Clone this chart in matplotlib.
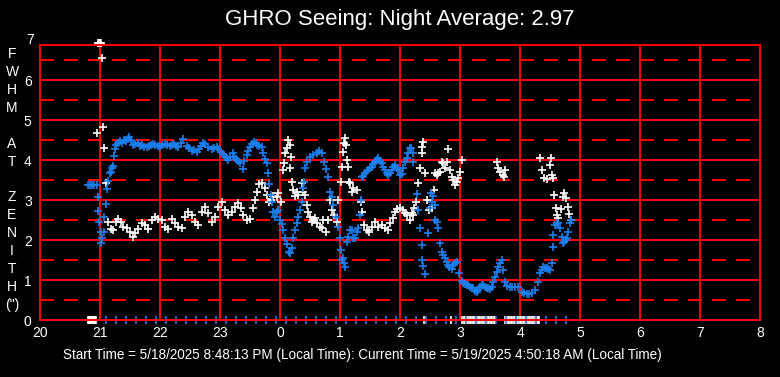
import matplotlib
matplotlib.use("Agg")
import matplotlib.pyplot as plt

plt.rcParams['font.family'] = ['Liberation Sans', 'DejaVu Sans']

# --- data (clock time, FWHM in arcsec) ---
blue_times = [
    "20:48", "20:50", "20:52", "20:54", "20:57", "20:58", "20:58", "20:59", "21:01", "21:01",
    "21:02", "21:04", "21:04", "21:06", "21:07", "21:08", "21:10", "21:11", "21:12", "21:13",
    "21:14", "21:15", "21:16", "21:18", "21:20", "21:22", "21:24", "21:26", "21:28", "21:29",
    "21:31", "21:33", "21:35", "21:38", "21:40", "21:42", "21:44", "21:47", "21:49", "21:51",
    "21:53", "21:55", "21:58", "22:00", "22:02", "22:05", "22:07", "22:10", "22:12", "22:14",
    "22:16", "22:18", "22:21", "22:23", "22:27", "22:29", "22:32", "22:34", "22:37", "22:39",
    "22:41", "22:43", "22:45", "22:48", "22:52", "22:54", "22:57", "22:58", "23:01", "23:03",
    "23:05", "23:07", "23:08", "23:10", "23:13", "23:14", "23:16", "23:18", "23:20", "23:23",
    "23:24", "23:27", "23:28", "23:30", "23:32", "23:34", "23:36", "23:37", "23:39", "23:42",
    "23:43", "23:45", "23:47", "23:48", "23:49", "23:51", "23:52", "23:53", "23:55", "23:57",
    "23:58", "00:00", "00:02", "00:03", "00:05", "00:07", "00:09", "00:10", "00:12", "00:13",
    "00:15", "00:17", "00:18", "00:20", "00:22", "00:23", "00:24", "00:25", "00:27", "00:30",
    "00:33", "00:37", "00:39", "00:42", "00:44", "00:46", "00:48", "00:50", "00:52", "00:53",
    "00:56", "00:58", "01:00", "01:01", "01:02", "01:03", "01:04", "01:05", "01:07", "01:08",
    "01:10", "01:12", "01:13", "01:15", "01:17", "01:18", "01:20", "01:21", "01:22", "01:23",
    "01:25", "01:27", "01:28", "01:30", "01:32", "01:33", "01:35", "01:37", "01:38", "01:40",
    "01:42", "01:43", "01:45", "01:47", "01:48", "01:50", "01:52", "01:53", "01:55", "01:57",
    "01:58", "02:00", "02:02", "02:03", "02:05", "02:07", "02:08", "02:10", "02:11", "02:13",
    "02:13", "02:17", "02:18", "02:20", "02:22", "02:22", "02:23", "02:25", "02:28", "02:30",
    "02:31", "02:32", "02:33", "02:35", "02:35", "02:37", "02:38", "02:40", "02:42", "02:43",
    "02:45", "02:47", "02:48", "02:49", "02:52", "02:53", "02:55", "02:57", "02:59", "03:02",
    "03:03", "03:05", "03:07", "03:08", "03:10", "03:12", "03:13", "03:15", "03:17", "03:18",
    "03:20", "03:22", "03:23", "03:25", "03:27", "03:28", "03:30", "03:32", "03:33", "03:35",
    "03:37", "03:38", "03:40", "03:42", "03:43", "03:45", "03:47", "03:50", "03:52", "03:55",
    "03:58", "04:02", "04:04", "04:07", "04:09", "04:12", "04:15", "04:18", "04:20", "04:22",
    "04:23", "04:25", "04:27", "04:28", "04:30", "04:32", "04:33", "04:33", "04:35", "04:37",
    "04:38", "04:40", "04:42", "04:43", "04:44", "04:46", "04:47", "04:48", "04:50", "04:51",
]
blue_fwhm = [
    3.37, 3.37, 3.37, 3.37, 3.37, 3.07, 2.72, 2.44, 2.21, 1.92,
    2.04, 2.21, 2.57, 2.89, 3.27, 3.48, 3.67, 3.71, 3.79, 3.85,
    4.10, 4.27, 4.38, 4.43, 4.48, 4.42, 4.50, 4.47, 4.52, 4.57,
    4.50, 4.37, 4.40, 4.42, 4.35, 4.37, 4.33, 4.32, 4.36, 4.38,
    4.40, 4.38, 4.35, 4.33, 4.37, 4.40, 4.38, 4.36, 4.37, 4.40,
    4.36, 4.33, 4.42, 4.52, 4.35, 4.30, 4.23, 4.25, 4.21, 4.28,
    4.35, 4.42, 4.40, 4.33, 4.27, 4.30, 4.33, 4.28, 4.21, 4.14,
    4.08, 4.04, 4.00, 4.08, 4.17, 4.08, 4.02, 3.97, 3.93, 3.77,
    3.97, 4.12, 4.23, 4.32, 4.40, 4.46, 4.42, 4.37, 4.35, 4.33,
    4.17, 4.02, 3.92, 3.67, 3.40, 3.12, 2.96, 2.70, 2.58, 2.71,
    2.75, 2.50, 2.40, 2.25, 2.04, 1.90, 1.71, 1.68, 1.79, 2.04,
    2.25, 2.42, 2.58, 2.75, 2.96, 3.30, 3.45, 3.79, 3.96, 4.08,
    4.12, 4.17, 4.23, 4.18, 3.96, 3.77, 3.58, 3.21, 3.08, 2.87,
    2.58, 2.33, 2.04, 1.75, 1.50, 1.54, 1.42, 1.33, 1.95, 2.08,
    2.25, 2.25, 2.04, 2.04, 2.20, 2.29, 2.62, 3.00, 3.58, 3.60,
    3.67, 3.72, 3.75, 3.80, 3.83, 3.90, 3.96, 4.00, 4.04, 3.98,
    3.92, 3.83, 3.75, 3.68, 3.62, 3.68, 3.75, 3.82, 3.87, 3.80,
    3.75, 3.62, 3.65, 3.79, 3.96, 4.05, 4.17, 4.30, 4.29, 4.17,
    3.96, 3.15, 2.75, 2.29, 1.87, 1.50, 1.35, 1.15, 2.17, 2.79,
    3.17, 2.96, 3.10, 2.87, 2.50, 2.46, 2.29, 1.92, 1.71, 1.62,
    1.56, 1.46, 1.37, 1.33, 1.27, 1.37, 1.42, 1.46, 1.17, 0.98,
    0.92, 0.90, 0.87, 0.87, 0.83, 0.79, 0.79, 0.73, 0.71, 0.75,
    0.83, 0.87, 0.87, 0.83, 0.80, 0.79, 0.77, 0.83, 0.95, 1.08,
    1.20, 1.33, 1.42, 1.50, 1.25, 0.96, 0.85, 0.83, 0.82, 0.82,
    0.82, 0.71, 0.67, 0.65, 0.65, 0.67, 0.75, 0.96, 1.17, 1.25,
    1.33, 1.30, 1.29, 1.27, 1.25, 1.42, 1.83, 2.12, 2.37, 2.42,
    2.42, 2.29, 2.08, 1.92, 1.95, 2.00, 2.04, 2.21, 2.42, 2.50,
]

white_times = [
    "20:58", "20:59", "21:00", "21:01", "21:02", "21:03", "20:57", "21:04", "21:06", "21:08",
    "21:11", "21:13", "21:16", "21:18", "21:21", "21:23", "21:27", "21:30", "21:33", "21:35",
    "21:38", "21:42", "21:45", "21:48", "21:52", "21:55", "21:58", "22:02", "22:05", "22:08",
    "22:12", "22:15", "22:18", "22:22", "22:25", "22:28", "22:32", "22:35", "22:38", "22:42",
    "22:45", "22:48", "22:52", "22:55", "22:58", "23:02", "23:05", "23:08", "23:12", "23:15",
    "23:18", "23:21", "23:23", "23:27", "23:30", "23:33", "23:35", "23:37", "23:39", "23:42",
    "23:45", "23:47", "23:49", "23:51", "23:53", "23:57", "23:58", "00:01", "00:03", "00:04",
    "00:05", "00:07", "00:08", "00:10", "00:10", "00:11", "00:12", "00:13", "00:15", "00:17",
    "00:18", "00:22", "00:23", "00:25", "00:27", "00:28", "00:30", "00:32", "00:33", "00:35",
    "00:37", "00:40", "00:42", "00:43", "00:46", "00:48", "00:50", "00:52", "00:54", "00:57",
    "00:58", "01:01", "01:02", "01:03", "01:04", "01:05", "01:06", "01:07", "01:08", "01:09",
    "01:10", "01:12", "01:13", "01:17", "01:21", "01:22", "01:24", "01:27", "01:29", "01:32",
    "01:35", "01:38", "01:42", "01:45", "01:48", "01:50", "01:53", "01:55", "01:57", "02:00",
    "02:03", "02:05", "02:07", "02:10", "02:12", "02:13", "02:14", "02:16", "02:18", "02:20",
    "02:22", "02:22", "02:23", "02:25", "02:27", "02:29", "02:32", "02:34", "02:35", "02:37",
    "02:38", "02:40", "02:42", "02:43", "02:45", "02:47", "02:48", "02:50", "02:52", "02:53",
    "02:55", "02:57", "02:58", "03:00", "03:02", "03:37", "03:38", "03:40", "03:43", "03:44",
    "03:45", "04:20", "04:22", "04:24", "04:27", "04:30", "04:31", "04:32", "04:33", "04:34",
    "04:36", "04:37", "04:38", "04:41", "04:43", "04:44", "04:46", "04:48", "04:49", "04:51",
]
white_fwhm = [
    6.93, 6.93, 6.93, 6.93, 6.54, 4.83, 4.67, 4.29, 3.43, 2.46,
    2.27, 2.25, 2.46, 2.52, 2.46, 2.33, 2.29, 2.21, 2.08, 2.17,
    2.27, 2.43, 2.37, 2.27, 2.50, 2.58, 2.52, 2.50, 2.32, 2.27,
    2.52, 2.42, 2.33, 2.29, 2.58, 2.71, 2.62, 2.46, 2.37, 2.71,
    2.83, 2.67, 2.46, 2.58, 2.83, 2.96, 2.75, 2.62, 2.71, 2.83,
    2.92, 2.79, 2.62, 2.50, 2.52, 2.79, 3.00, 3.21, 3.40, 3.42,
    3.29, 3.12, 2.96, 3.00, 3.10, 3.08, 3.17, 2.96, 3.75, 3.92,
    4.17, 4.30, 4.50, 4.37, 3.79, 4.08, 3.46, 3.25, 3.10, 3.21,
    3.12, 3.42, 3.21, 3.12, 2.87, 2.71, 2.58, 2.46, 2.50, 2.54,
    2.42, 2.33, 2.29, 2.50, 2.21, 2.50, 3.00, 2.75, 2.62, 2.46,
    3.00, 3.46, 3.83, 4.21, 4.42, 4.54, 4.37, 4.00, 3.83, 3.46,
    3.42, 3.21, 3.29, 3.25, 2.96, 2.71, 2.37, 2.25, 2.21, 2.33,
    2.46, 2.33, 2.37, 2.29, 2.25, 2.42, 2.54, 2.71, 2.77, 2.79,
    2.75, 2.67, 2.62, 2.50, 2.67, 2.62, 2.79, 2.96, 3.42, 3.79,
    4.17, 4.33, 4.46, 3.67, 3.00, 2.75, 2.79, 3.25, 3.67, 3.62,
    3.67, 3.71, 3.96, 3.92, 3.79, 3.96, 4.27, 3.75, 3.58, 3.50,
    3.37, 3.46, 3.54, 3.71, 4.00, 3.96, 3.79, 3.71, 3.62, 3.57,
    3.75, 4.04, 3.75, 3.54, 3.52, 3.87, 4.04, 3.62, 3.54, 3.12,
    2.79, 2.62, 2.54, 2.77, 3.08, 3.18, 3.04, 2.83, 2.65, 2.50,
]

# readings that came back as 0 (drawn on the baseline)
blue_zero_times = [
    "21:06", "21:16", "21:26", "21:36", "21:46", "21:56", "22:06", "22:16", "22:26", "22:36",
    "22:46", "22:56", "23:06", "23:16", "23:26", "23:36", "23:46", "23:56", "00:06", "00:16",
    "00:26", "00:36", "00:46", "00:56", "01:06", "01:16", "01:26", "01:36", "01:46", "01:56",
    "02:06", "02:16", "02:26", "02:36", "02:46", "02:56", "03:06", "03:16", "03:26", "03:36",
    "03:46", "03:56", "04:06", "04:16", "04:26", "04:36", "04:46",
]
white_zero_times = [
    "20:48", "20:49", "20:50", "20:51", "20:52", "20:53", "20:54", "20:55", "20:56", "02:24", "02:51",
    "03:02", "03:04", "03:05", "03:07", "03:08", "03:10", "03:11", "03:13", "03:14", "03:16",
    "03:17", "03:19", "03:20", "03:22", "03:23", "03:25", "03:26", "03:28", "03:29", "03:31",
    "03:32", "03:34", "03:35",
    "03:45", "03:46", "03:48", "03:49", "03:51", "03:52", "03:54", "03:55", "03:57", "03:58",
    "04:00", "04:01", "04:03", "04:04", "04:06", "04:07", "04:09", "04:10", "04:12", "04:13",
    "04:15", "04:16", "04:18", "04:19",
]

x_ticks = list(range(20, 33))
x_tick_labels = ["20", "21", "22", "23", "0", "1", "2", "3", "4", "5", "6", "7", "8"]
y_ticks = [0, 1, 2, 3, 4, 5, 6]

title = "GHRO Seeing: Night Average: 2.97"
footer = ("Start Time = 5/18/2025 8:48:13 PM (Local Time): "
          "Current Time = 5/19/2025 4:50:18 AM (Local Time)")
y_label = "F\nW\nH\nM\n\nA\nT\n\nZ\nE\nN\nI\nT\nH\n(\")"


def to_hours(t):
    # clock time -> continuous hours on a 20..32 axis
    h, m = map(int, t.split(":"))
    v = h + m / 60.0
    return v + 24 if h < 12 else v


BLUE = "#1a7ff0"
RED = "#ff0000"
LW = 1.44

fig = plt.figure(figsize=(7.8, 3.77), dpi=100, facecolor="black")
ax = fig.add_axes([40 / 780, 57 / 377, 720 / 780, 275 / 377], facecolor="black")

ax.set_xlim(20, 32)
ax.set_ylim(0, 6.875)
ax.set_xticks(x_ticks)
ax.set_xticklabels(x_tick_labels)
ax.set_yticks(y_ticks)
ax.set_yticks([v + 0.5 for v in y_ticks], minor=True)
ax.tick_params(which="both", length=0, colors="white", labelsize=10)
ax.tick_params(axis="x", pad=4)
ax.tick_params(axis="y", pad=6)
ax.xaxis.grid(True, which="major", color=RED, lw=LW)
ax.yaxis.grid(True, which="major", color=RED, lw=LW)
ax.yaxis.grid(True, which="minor", color=RED, lw=LW, ls=(0, (7, 5)))
ax.set_axisbelow(True)
for sp in ax.spines.values():
    sp.set_color(RED)
    sp.set_linewidth(LW)

# the "7" label sits just above the frame
ax.text(-6 / 720, 7, "7", transform=ax.get_yaxis_transform(), ha="right", va="center",
        color="white", fontsize=10, clip_on=False)

mk = dict(ls="none", marker="+", ms=6, mew=1.2, clip_on=False)
ax.plot([to_hours(t) for t in white_times], white_fwhm, color="white", **mk)
ax.plot([to_hours(t) for t in white_zero_times], [0] * len(white_zero_times), color="white", **mk)
ax.plot([to_hours(t) for t in blue_times], blue_fwhm, color=BLUE, **mk)
ax.plot([to_hours(t) for t in blue_zero_times], [0] * len(blue_zero_times), color=BLUE, **mk)

fig.text(400 / 780, 1 - 19.5 / 377, title, ha="center", va="center", color="white", fontsize=16)
fig.text(362 / 780, 1 - 355 / 377, footer, ha="center", va="center", color="white", fontsize=9.75)
fig.text(12 / 780, 1 - 179.5 / 377, y_label, ha="center", va="center", color="white",
         fontsize=10, linespacing=1.36, multialignment="center")

fig.savefig("out.png", dpi=100, facecolor="black")
